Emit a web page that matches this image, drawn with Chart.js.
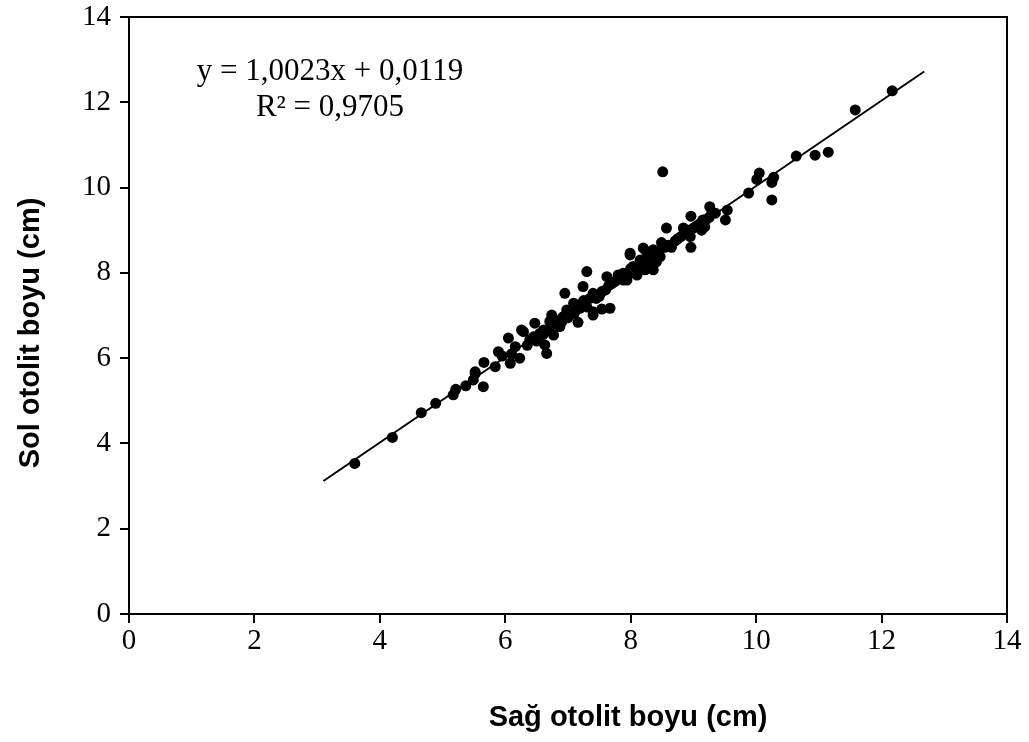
<!DOCTYPE html>
<html>
<head>
<meta charset="utf-8">
<script src="https://cdn.jsdelivr.net/npm/chart.js@4.4.1/dist/chart.umd.min.js"></script>
<style>
  html, body { margin: 0; padding: 0; background: #fff; }
  #wrap { width: 1029px; height: 742px; position: relative; }
</style>
</head>
<body>
<div id="wrap"><canvas id="c" width="1029" height="742"></canvas></div>
<script>
// ---- data ----
const sagX = [
  3.60, 4.20, 4.66, 4.89, 5.17, 5.21, 5.37, 5.52, 5.49, 5.52, 5.65, 5.66, 5.84, 5.89, 6.08,
  6.16, 6.23, 6.05, 6.29, 6.26, 6.39, 6.47, 6.55, 6.63, 6.66, 6.61, 6.77, 6.87, 6.71, 6.74,
  6.87, 6.92, 6.98, 7.03, 7.16, 6.95, 7.09, 7.19, 7.24, 7.30, 7.40, 7.40, 7.40, 7.54, 7.54,
  7.62, 7.67, 7.80, 7.88, 7.88, 7.94, 7.99, 7.99, 8.04, 8.10, 8.10, 8.15, 8.20, 8.23, 8.25,
  8.31, 8.36, 8.36, 8.41, 8.47, 8.49, 8.51, 8.57, 8.71, 8.84, 8.95, 8.96, 8.96, 9.13, 9.15,
  9.16, 9.18, 9.26, 9.29, 9.51, 9.54, 9.88, 10.01, 10.05, 10.25, 10.25, 10.28, 10.64, 10.94, 11.15,
  11.58, 12.17,
  5.95, 6.10, 6.35, 6.45, 6.50, 6.60, 6.70, 6.80, 6.90, 7.00, 7.05, 7.10, 7.20, 7.25, 7.30,
  7.35, 7.45, 7.50, 7.60, 7.65, 7.70, 7.75, 7.85, 7.95, 8.00, 8.05, 8.15, 8.20, 8.30, 8.40,
  8.45, 8.55, 8.60, 8.65, 8.75, 8.80, 8.90, 9.00, 9.05, 9.10, 9.20, 9.25, 9.35
];
const solY = [
  3.53, 4.14, 4.72, 4.94, 5.14, 5.27, 5.35, 5.64, 5.49, 5.68, 5.33, 5.90, 5.80, 6.15, 5.88,
  6.27, 6.00, 6.47, 6.62, 6.66, 6.43, 6.82, 6.58, 6.31, 6.11, 6.66, 6.54, 6.74, 6.86, 7.01,
  6.89, 6.97, 7.13, 7.01, 6.84, 7.52, 7.29, 7.17, 7.68, 8.03, 7.52, 7.09, 7.01, 7.56, 7.15,
  7.91, 7.17, 7.95, 7.83, 7.99, 7.83, 8.46, 8.42, 8.15, 7.95, 8.03, 8.30, 8.58, 8.07, 8.50,
  8.15, 8.54, 8.07, 8.26, 8.38, 8.71, 10.37, 9.05, 8.75, 9.05, 8.85, 8.60, 9.33, 9.00, 9.24,
  9.12, 9.08, 9.55, 9.40, 9.24, 9.47, 9.87, 10.19, 10.34, 10.12, 9.71, 10.24, 10.74, 10.76, 10.83,
  11.82, 12.27,
  6.05, 6.10, 6.30, 6.50, 6.40, 6.55, 6.65, 6.80, 6.85, 6.95, 7.10, 7.05, 7.25, 7.35, 7.20,
  7.40, 7.40, 7.45, 7.60, 7.70, 7.75, 7.80, 7.90, 8.00, 8.10, 8.00, 8.10, 8.25, 8.35, 8.45,
  8.50, 8.60, 8.65, 8.60, 8.80, 8.85, 9.00, 9.05, 9.10, 9.15, 9.25, 9.30, 9.40
];
const xTicks = [0, 2, 4, 6, 8, 10, 12, 14];
const yTicks = [0, 2, 4, 6, 8, 10, 12, 14];
const trendSlope = 1.0023;
const trendIntercept = 0.0119;
const trendRange = [3.1, 12.68];
const equationText = "y = 1,0023x + 0,0119";
const r2Text = "R² = 0,9705";
const xTitle = "Sağ otolit boyu (cm)";
const yTitle = "Sol otolit boyu (cm)";

// ---- build chart ----
const points = sagX.map((x, i) => ({ x: x, y: solY[i] }));
const trend = trendRange.map(x => ({ x: x, y: trendSlope * x + trendIntercept }));

const SERIF = "'Liberation Serif', 'Times New Roman', serif";
const SANS = "'Liberation Sans', Arial, sans-serif";

const framePlugin = {
  id: 'frame',
  afterDraw(chart) {
    const { ctx, chartArea: a } = chart;
    ctx.save();
    ctx.strokeStyle = '#000';
    ctx.lineWidth = 2;
    ctx.beginPath();
    ctx.moveTo(a.left, a.top);
    ctx.lineTo(a.right, a.top);
    ctx.lineTo(a.right, a.bottom);
    ctx.stroke();
    // titles and equation
    ctx.fillStyle = '#000';
    ctx.textAlign = 'center';
    ctx.textBaseline = 'middle';
    ctx.font = "bold 29px " + SANS;
    ctx.fillText(xTitle, 628, 718);
    ctx.save();
    ctx.translate(31, 333);
    ctx.rotate(-Math.PI / 2);
    ctx.fillText(yTitle, 0, 0);
    ctx.restore();
    ctx.font = "31px " + SERIF;
    ctx.fillText(equationText, 330, 72);
    ctx.fillText(r2Text, 330, 108);
    ctx.restore();
  }
};

new Chart(document.getElementById('c'), {
  type: 'scatter',
  data: {
    datasets: [
      {
        label: 'Otolit',
        data: points,
        backgroundColor: '#000',
        borderColor: '#000',
        borderWidth: 0,
        pointRadius: 5.5,
        pointHoverRadius: 5.5
      },
      {
        label: 'Trend',
        type: 'line',
        data: trend,
        borderColor: '#000',
        borderWidth: 2,
        pointRadius: 0,
        showLine: true,
        fill: false
      }
    ]
  },
  options: {
    responsive: false,
    animation: false,
    devicePixelRatio: 1,
    layout: { padding: { top: 17, right: 22, left: 0, bottom: 0 } },
    plugins: { legend: { display: false }, tooltip: { enabled: false } },
    scales: {
      x: {
        type: 'linear', min: 0, max: 14,
        afterBuildTicks(scale) { scale.ticks = xTicks.map(v => ({ value: v })); },
        afterFit(scale) { scale.height = 128; scale.paddingLeft = 0; scale.paddingRight = 0; },
        ticks: { color: '#000', padding: 1, font: { family: SERIF, size: 29 } },
        grid: { display: true, drawOnChartArea: false, drawTicks: true, tickLength: 9, color: '#000', lineWidth: 2 },
        border: { display: true, color: '#000', width: 2 }
      },
      y: {
        type: 'linear', min: 0, max: 14,
        afterBuildTicks(scale) { scale.ticks = yTicks.map(v => ({ value: v })); },
        afterFit(scale) { scale.width = 129; scale.paddingTop = 0; scale.paddingBottom = 0; },
        ticks: { color: '#000', padding: 9, font: { family: SERIF, size: 29 } },
        grid: { display: true, drawOnChartArea: false, drawTicks: true, tickLength: 9, color: '#000', lineWidth: 2 },
        border: { display: true, color: '#000', width: 2 }
      }
    }
  },
  plugins: [framePlugin]
});
</script>
</body>
</html>
